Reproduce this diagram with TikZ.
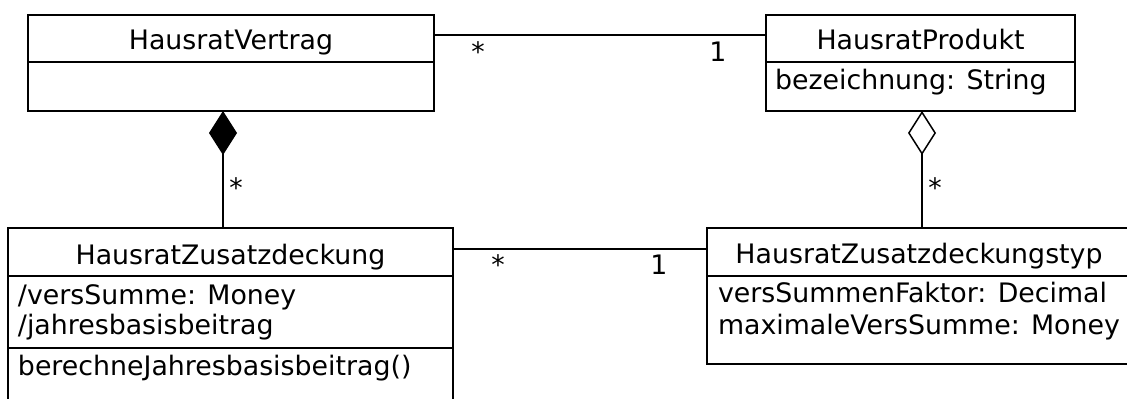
\documentclass[tikz,border=0pt]{standalone}
\usepackage{fontspec}
\setmainfont{DejaVu Sans}
\usetikzlibrary{arrows.meta}
\begin{document}
\begin{tikzpicture}[x=0.5pt,y=-0.5pt,
  cls/.style={draw,line width=0.75pt,rectangle,inner sep=0pt,outer sep=0pt},
  txt/.style={inner sep=0pt,outer sep=0pt,font=\fontsize{13.4}{15}\selectfont},
  ttl/.style={txt,anchor=base},
  attr/.style={txt,anchor=base west},
  mult/.style={txt,anchor=base},
  conn/.style={line width=0.75pt}]
\useasboundingbox (0,0) rectangle (1127,399);
% class boxes
\node[cls,minimum width=203pt,minimum height=48pt] (HV) at (231,63) {};
\node[cls,minimum width=154.5pt,minimum height=48pt] (HP) at (920.5,63) {};
\node[cls,minimum width=222.5pt,minimum height=91pt] (ZD) at (230.5,319) {};
\node[cls,minimum width=215pt,minimum height=68pt] (ZT) at (922,296) {};
% dividers
\coordinate (d1) at (0,62);
\coordinate (d2) at (0,276);
\coordinate (d3) at (0,348);
\draw[conn] (HV.west |- d1) -- (HV.east |- d1);
\draw[conn] (HP.west |- d1) -- (HP.east |- d1);
\draw[conn] (ZD.west |- d2) -- (ZD.east |- d2);
\draw[conn] (ZD.west |- d3) -- (ZD.east |- d3);
\draw[conn] (ZT.west |- d2) -- (ZT.east |- d2);
% texts
\node[ttl] (tHV) at (231,50) {HausratVertrag};
\node[ttl] (tHP) at (920.5,50) {HausratProdukt};
\node[attr] (aHP) at (775,90) {bezeichnung: String};
\node[ttl] (tZD) at (230.5,265) {HausratZusatzdeckung};
\node[attr] (aZD1) at (18,305) {/versSumme: Money};
\node[attr] (aZD2) at (18,335) {/jahresbasisbeitrag};
\node[attr] (oZD) at (18,376) {berechneJahresbasisbeitrag()};
\node[ttl] (tZT) at (919,264) {HausratZusatzdeckungstyp};
\node[attr] (aZT1) at (718,303) {versSummenFaktor: Decimal};
\node[attr] (aZT2) at (718,335) {maximaleVersSumme: Money};
% connectors
\coordinate (y1) at (0,35);
\coordinate (y2) at (0,249);
\coordinate (xc) at (223,0);
\coordinate (xa) at (922,0);
\draw[conn] (HV.east |- y1) -- (HP.west |- y1);
\draw[conn] (ZD.east |- y2) -- (ZT.west |- y2);
\draw[conn,-{Diamond[length=22pt,width=14pt]}] (ZD.north -| xc) -- (HV.south -| xc);
\draw[conn,-{Diamond[open,length=22pt,width=14pt]}] (ZT.north -| xa) -- (HP.south -| xa);
% multiplicities
\node[mult] (m1) at (478,62) {*};
\node[mult] (m2) at (718,62) {1};
\node[mult] (m3) at (498,275) {*};
\node[mult] (m4) at (659,275) {1};
\node[mult] (m5) at (236,198) {*};
\node[mult] (m6) at (935,198) {*};
\end{tikzpicture}
\end{document}
